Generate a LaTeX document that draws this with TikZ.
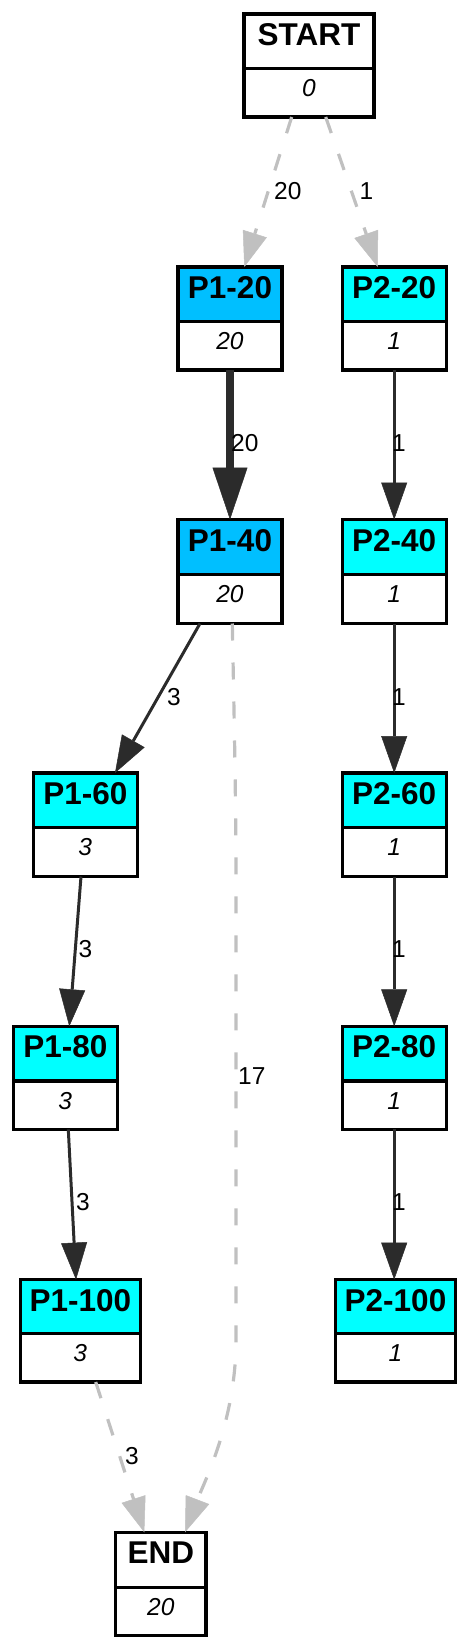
\documentclass[tikz,border=0pt]{standalone}
\usepackage{fontspec}
\setmainfont{Liberation Sans}
\usetikzlibrary{arrows.meta,calc}
\definecolor{p1blue}{HTML}{00BFFF}
\definecolor{cyanc}{HTML}{00FFFF}
\definecolor{edgedark}{HTML}{2B2B2B}
\definecolor{edgegray}{HTML}{C0C0C0}
\tikzset{
  boxframe/.style={draw=black, line width=3.2pt, inner sep=0pt, outer sep=0pt},
  boxline/.style={draw=black, line width=3.2pt},
  titletext/.style={font=\fontsize{31.5}{36}\selectfont\bfseries, anchor=base, inner sep=0pt},
  counttext/.style={font=\fontsize{24.5}{28}\selectfont\itshape, anchor=base, inner sep=0pt},
  elabel/.style={font=\fontsize{24.5}{28}\selectfont, anchor=base west, inner sep=0pt},
  darkedge/.style={draw=edgedark, line width=3pt, -{Triangle[length=37pt,width=26pt,line width=0.5pt]}},
  thickedge/.style={draw=edgedark, line width=8.3pt, -{Triangle[length=52pt,width=35pt,line width=0.5pt]}},
  grayedge/.style={draw=edgegray, line width=3.2pt, dash pattern=on 17pt off 22pt, -{Triangle[length=35pt,width=25pt,line width=0.5pt]}},
}
% name, cx, top, bottom, divider, width, fill, title, count
\newcommand\gvbox[9]{%
  \fill[#7] ({#2-#6/2},#3) rectangle ({#2+#6/2},#5);
  \node[boxframe, minimum width=#6pt, minimum height={(#4-#3)*1pt}] (#1) at (#2,{(#3+#4)/2}) {};
  \draw[boxline] ({#2-#6/2},#5) -- ({#2+#6/2},#5);
  \node[titletext] (#1-t) at (#2,{#3+31.5}) {#8};
  \node[counttext] (#1-c) at (#2,{#5+28}) {#9};
}
\begin{document}
\begin{tikzpicture}[x=1pt,y=-1pt]
\useasboundingbox (0,0) rectangle (468,1650);
\gvbox{start}{309}{14}{117}{68.7}{130}{white}{START}{0}
\gvbox{p120}{230}{267}{370}{321.7}{104}{p1blue}{P1-20}{20}
\gvbox{p220}{394.2}{267}{370}{321.7}{104}{cyanc}{P2-20}{1}
\gvbox{p140}{230}{519.5}{623.5}{574.3}{104}{p1blue}{P1-40}{20}
\gvbox{p240}{394.2}{519.5}{623.5}{574.3}{104}{cyanc}{P2-40}{1}
\gvbox{p160}{85.3}{773}{876.5}{827.7}{104}{cyanc}{P1-60}{3}
\gvbox{p260}{394.2}{773}{876.5}{827.7}{104}{cyanc}{P2-60}{1}
\gvbox{p180}{65.3}{1026.3}{1129.4}{1081}{104}{cyanc}{P1-80}{3}
\gvbox{p280}{394.2}{1026.3}{1129.4}{1081}{104}{cyanc}{P2-80}{1}
\gvbox{p1100}{80.3}{1279.6}{1382}{1333.7}{120}{cyanc}{P1-100}{3}
\gvbox{p2100}{395.5}{1279.6}{1382}{1333.7}{120}{cyanc}{P2-100}{1}
\gvbox{end}{160.8}{1532.3}{1635.4}{1587.3}{90.4}{white}{END}{20}

% edges
\draw[grayedge] ([xshift=-17.3pt]start.south) -- ([xshift=14.3pt]p120.north);
\draw[grayedge] ([xshift=16.7pt]start.south) -- ([xshift=-16.5pt]p220.north);
\draw[thickedge] (p120.south) -- (p140.north);
\draw[darkedge] (p220.south) -- (p240.north);
\draw[darkedge] ([xshift=-30pt]p140.south) -- ([xshift=29.7pt]p160.north);
\draw[darkedge] (p240.south) -- (p260.north);
\draw[darkedge] ([xshift=-4.3pt]p160.south) -- ([xshift=4pt]p180.north);
\draw[darkedge] (p260.south) -- (p280.north);
\draw[darkedge] ([xshift=3pt]p180.south) -- ([xshift=-4.3pt]p1100.north);
\draw[darkedge] (p280.south) -- (p280.south |- p2100.north);
\draw[grayedge] ([xshift=15.4pt]p1100.south) -- ([xshift=-16.5pt]end.north);
\coordinate (c17a) at (236,850);
\coordinate (c17b) at (236,1340);
\draw[grayedge] ([xshift=2.3pt]p140.south) .. controls (235,760) .. (c17a) -- (c17b) .. controls (236,1420) and (205,1480) .. ([xshift=24.2pt]end.north);

% edge labels
\node[elabel] (l1) at (274,199) {20};
\node[elabel] (l2) at (359.3,199) {1};
\node[elabel] (l3) at (231,451.7) {20};
\node[elabel] (l4) at (392,451.7) {1};
\node[elabel] (l5) at (167,705) {3};
\node[elabel] (l6) at (392,705) {1};
\node[elabel] (l7) at (78.5,957.7) {3};
\node[elabel] (l8) at (392,957.7) {1};
\node[elabel] (l9) at (238,1084) {17};
\node[elabel] (l10) at (76,1210.7) {3};
\node[elabel] (l11) at (392,1210.7) {1};
\node[elabel] (l12) at (125,1464) {3};
\end{tikzpicture}
\end{document}
